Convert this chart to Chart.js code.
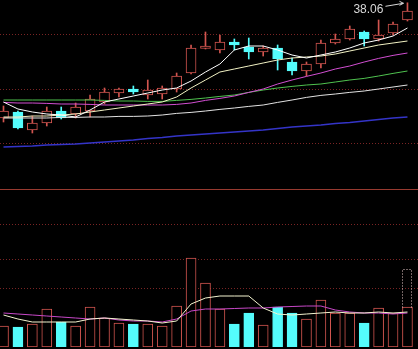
<!DOCTYPE html>
<html>
<head>
<meta charset="utf-8">
<script src="https://cdn.jsdelivr.net/npm/chart.js@4.4.0/dist/chart.umd.min.js"></script>
<style>
  html, body { margin: 0; padding: 0; background: #000; }
  #wrap { position: relative; width: 418px; height: 349px; overflow: hidden; background: #000; }
  #price { position: absolute; left: 0; top: 0; }
  #sep { position: absolute; left: 0; top: 189px; width: 418px; height: 1px; background: #983a30; }
  #vol { position: absolute; left: 0; top: 190px; }
</style>
</head>
<body>
<div id="wrap">
  <canvas id="price" width="418" height="189"></canvas>
  <div id="sep"></div>
  <canvas id="vol" width="418" height="159"></canvas>
</div>
<script>
// trading days (index only, no dates shown on the chart)
const days = [0, 1, 2, 3, 4, 5, 6, 7, 8, 9, 10, 11, 12, 13, 14, 15, 16, 17, 18, 19, 20, 21, 22, 23, 24, 25, 26, 27, 28];

const open  = [32.30, 32.60, 31.70, 32.05, 32.65, 32.50, 32.65, 33.10, 33.55, 33.75, 33.45, 33.50, 33.75, 34.55, 35.78, 35.70, 36.10, 35.85, 35.60, 35.80, 35.10, 34.65, 35.00, 36.05, 36.25, 36.60, 36.25, 36.55, 37.20];
const high  = [32.90, 32.65, 32.40, 32.85, 32.85, 33.05, 33.45, 33.80, 33.80, 33.90, 34.20, 33.90, 34.55, 35.95, 36.60, 36.45, 36.25, 36.30, 35.90, 35.95, 35.30, 35.10, 36.20, 36.50, 36.90, 36.65, 37.20, 37.10, 38.06];
const low   = [32.10, 31.75, 31.55, 31.90, 32.25, 32.30, 32.35, 33.00, 33.35, 33.50, 33.25, 33.25, 33.60, 34.50, 35.75, 35.55, 35.70, 35.25, 35.40, 34.70, 34.45, 34.40, 34.80, 36.00, 36.20, 35.90, 36.15, 36.45, 37.15];
const close = [32.65, 31.80, 32.05, 32.65, 32.30, 32.85, 33.25, 33.60, 33.75, 33.60, 33.70, 33.80, 34.40, 35.80, 35.90, 36.10, 35.95, 35.60, 35.80, 35.25, 34.65, 35.00, 36.05, 36.25, 36.75, 36.25, 36.45, 37.00, 37.65];

const ma5   = [33.10, 32.75, 32.60, 32.50, 32.45, 32.35, 32.70, 33.10, 33.25, 33.40, 33.55, 33.70, 33.80, 34.15, 34.60, 35.00, 35.70, 35.90, 35.90, 35.70, 35.45, 35.30, 35.45, 35.60, 35.80, 36.05, 36.20, 36.40, 36.80];
const ma10  = [32.35, 32.35, 32.40, 32.40, 32.45, 32.50, 32.60, 32.70, 32.80, 32.90, 33.00, 33.10, 33.35, 33.80, 34.20, 34.60, 34.75, 34.90, 35.05, 35.20, 35.30, 35.35, 35.40, 35.50, 35.65, 35.80, 35.95, 36.05, 36.15];
const ma20  = [33.08, 33.05, 33.05, 33.03, 33.00, 33.00, 32.98, 32.95, 32.95, 32.95, 32.95, 32.95, 32.98, 33.05, 33.18, 33.28, 33.40, 33.58, 33.75, 34.00, 34.20, 34.38, 34.55, 34.75, 34.90, 35.10, 35.28, 35.43, 35.55];
const ma30  = [33.20, 33.20, 33.20, 33.20, 33.20, 33.20, 33.20, 33.18, 33.15, 33.15, 33.13, 33.13, 33.18, 33.23, 33.30, 33.38, 33.45, 33.58, 33.70, 33.80, 33.88, 33.95, 34.00, 34.10, 34.20, 34.28, 34.40, 34.53, 34.65];
const ma60  = [32.30, 32.30, 32.30, 32.30, 32.33, 32.33, 32.35, 32.35, 32.38, 32.38, 32.40, 32.45, 32.53, 32.58, 32.65, 32.73, 32.80, 32.88, 32.95, 33.08, 33.20, 33.33, 33.43, 33.50, 33.58, 33.65, 33.75, 33.85, 33.95];
const ma120 = [30.85, 30.88, 30.90, 30.95, 30.98, 31.00, 31.05, 31.10, 31.15, 31.20, 31.28, 31.33, 31.40, 31.45, 31.50, 31.55, 31.60, 31.65, 31.70, 31.78, 31.85, 31.90, 31.95, 32.03, 32.08, 32.15, 32.23, 32.30, 32.35];

// volume in lots
const volume  = [21000, 20000, 23000, 38000, 25000, 21000, 40000, 29000, 24000, 23000, 23000, 21000, 41000, 89000, 64000, 38000, 23000, 34000, 22000, 40000, 34000, 28000, 47000, 34000, 34000, 24000, 39000, 34000, 40000];
const volMa5  = [32000, 28000, 25000, 25000, 25000, 25000, 28000, 29000, 28000, 27000, 26000, 24000, 26000, 43000, 49000, 51000, 51000, 51000, 39000, 33000, 32000, 33000, 34000, 35000, 34000, 34000, 35000, 34000, 35000];
const volMa10 = [34000, 33000, 32000, 31000, 30000, 29000, 28000, 29000, 27000, 26000, 26000, 25000, 28000, 36000, 38000, 38000, 38500, 39000, 39000, 40000, 40500, 41000, 41000, 37000, 35000, 34000, 34000, 33000, 34000];
const volForecast = 78000; // estimated full-day volume of the last session

const priceGrid = [36.50, 33.75, 31.05];
const volGrid = [123000, 88000, 59000];

const UP = '#d2554f';
const DOWN = '#54fcfc';
const GRID = '#7a2424';

const isUp = i => close[i] >= open[i];

const xScale = { type: 'linear', display: false, offset: false, min: -0.243, max: 28.73 };

const dottedGrid = {
  id: 'dottedGrid',
  beforeDatasetsDraw(chart, args, opts) {
    const { ctx, chartArea, scales } = chart;
    ctx.save();
    ctx.strokeStyle = opts.color;
    ctx.lineWidth = 1;
    ctx.setLineDash([1, 2]);
    opts.values.forEach(v => {
      const py = Math.round(scales.y.getPixelForValue(v)) + 0.5;
      ctx.beginPath();
      ctx.moveTo(chartArea.left, py);
      ctx.lineTo(chartArea.right, py);
      ctx.stroke();
    });
    ctx.restore();
  }
};

const highLabel = {
  id: 'highLabel',
  afterDatasetsDraw(chart) {
    const { ctx, scales } = chart;
    const top = Math.max(...high);
    const idx = high.indexOf(top);
    const px = scales.x.getPixelForValue(days[idx]);
    const py = scales.y.getPixelForValue(top);
    ctx.save();
    ctx.fillStyle = '#d8d8d8';
    ctx.strokeStyle = '#d8d8d8';
    ctx.font = '12px "Liberation Sans", Arial, sans-serif';
    ctx.textAlign = 'right';
    ctx.textBaseline = 'alphabetic';
    ctx.fillText(top.toFixed(2), px - 24, py + 10);
    ctx.lineWidth = 1;
    ctx.beginPath();
    ctx.moveTo(px - 22, py + 3.5);
    ctx.lineTo(px - 4, py + 0.5);
    ctx.moveTo(px - 8, py - 1.5);
    ctx.lineTo(px - 4, py + 0.5);
    ctx.lineTo(px - 8, py + 2.5);
    ctx.stroke();
    ctx.restore();
  }
};

const forecastBar = {
  id: 'forecastBar',
  afterDatasetsDraw(chart) {
    const { ctx, scales } = chart;
    const last = days.length - 1;
    const cx = scales.x.getPixelForValue(days[last]);
    const yTop = Math.round(scales.y.getPixelForValue(volForecast)) + 0.5;
    const yBot = Math.round(scales.y.getPixelForValue(volume[last])) + 0.5;
    const l = Math.round(cx - 5) + 0.5, r = Math.round(cx + 5) - 0.5;
    ctx.save();
    ctx.strokeStyle = '#e6c8c8';
    ctx.lineWidth = 1;
    ctx.setLineDash([1, 2]);
    ctx.beginPath();
    ctx.moveTo(l, yBot);
    ctx.lineTo(l, yTop);
    ctx.lineTo(r, yTop);
    ctx.lineTo(r, yBot);
    ctx.stroke();
    ctx.restore();
  }
};

function maLine(label, values, color, width) {
  return {
    type: 'line',
    label,
    data: days.map(i => ({ x: i, y: values[i] })),
    borderColor: color,
    borderWidth: width || 1,
    pointRadius: 0,
    tension: 0,
    fill: false,
    order: 0
  };
}

new Chart(document.getElementById('price'), {
  type: 'bar',
  data: {
    datasets: [
      maLine('MA5', ma5, '#ffffff'),
      maLine('MA10', ma10, '#f2f2c4'),
      maLine('MA20', ma20, '#d24ed2'),
      maLine('MA30', ma30, '#4fc24f'),
      maLine('MA60', ma60, '#e2e2e2'),
      maLine('MA120', ma120, '#3434c8', 1.5),
      {
        label: 'body',
        data: days.map(i => ({ x: i, y: [open[i], close[i]] })),
        backgroundColor: days.map(i => isUp(i) ? '#000000' : DOWN),
        borderColor: days.map(i => isUp(i) ? UP : DOWN),
        borderWidth: 1,
        borderSkipped: false,
        barThickness: 10,
        grouped: false,
        order: 1
      },
      {
        label: 'wick',
        data: days.map(i => ({ x: i, y: [low[i], high[i]] })),
        backgroundColor: days.map(i => isUp(i) ? UP : DOWN),
        borderWidth: 0,
        barThickness: 1,
        grouped: false,
        order: 2
      }
    ]
  },
  options: {
    responsive: false,
    animation: false,
    events: [],
    layout: { padding: 0 },
    plugins: {
      legend: { display: false },
      tooltip: { enabled: false },
      dottedGrid: { values: priceGrid, color: GRID }
    },
    scales: {
      x: xScale,
      y: { type: 'linear', display: false, min: 28.75, max: 38.20 }
    }
  },
  plugins: [dottedGrid, highLabel]
});

new Chart(document.getElementById('vol'), {
  type: 'bar',
  data: {
    datasets: [
      maLine('VOL MA5', volMa5, '#f4f4d0'),
      maLine('VOL MA10', volMa10, '#c848c8'),
      {
        label: 'volume',
        data: days.map(i => ({ x: i, y: volume[i] })),
        backgroundColor: days.map(i => isUp(i) ? '#000000' : DOWN),
        borderColor: days.map(i => isUp(i) ? UP : DOWN),
        borderWidth: 1,
        borderSkipped: false,
        barThickness: 10,
        grouped: false,
        order: 1
      }
    ]
  },
  options: {
    responsive: false,
    animation: false,
    events: [],
    layout: { padding: { top: 0, left: 0, right: 0, bottom: 2 } },
    plugins: {
      legend: { display: false },
      tooltip: { enabled: false },
      dottedGrid: { values: volGrid, color: GRID }
    },
    scales: {
      x: xScale,
      y: { type: 'linear', display: false, min: 0, max: 157000 }
    }
  },
  plugins: [dottedGrid, forecastBar]
});
</script>
</body>
</html>
